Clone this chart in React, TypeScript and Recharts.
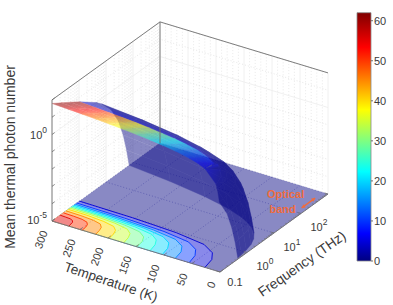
import { Bar, BarChart, Scatter, ScatterChart, XAxis, YAxis } from "recharts";

const WIDTH = 393;
const HEIGHT = 305;
const FONT = '"Liberation Sans", Arial, sans-serif';
const TEXT = "#3a3a3a";
const ORANGE = "#ef6c3e";

// axes: temperature in K, frequency and photon number as log10
const tempTicks = [300, 250, 200, 150, 100, 50, 0];
const tempMinor = [290, 280, 270, 260, 240, 230, 220, 210, 190, 180, 170, 160, 140, 130, 120, 110, 90, 80, 70, 60, 40, 30, 20, 10];
const freqDecades = [-1, 0, 1, 2, 3];
const freqMinorSteps = [0.301, 0.477, 0.602, 0.699, 0.778, 0.845, 0.903, 0.954];
const photonDecades = [-5, -4, -3, -2, -1, 0, 1, 2];
const colorbarTicks = [0, 10, 20, 30, 40, 50, 60];
const opticalBand = [2.21, 2.71];

// contours on the floor, outermost first: [temperature, log10 frequency]
const contourLevels = [5.1, 11, 16, 21, 25, 30, 35.5, 41, 46, 51, 56];
const contourCurves: number[][][] = [
  [[27, -1], [32, -0.64], [43, -0.39], [68, -0.18], [123, -0.06], [204, 0], [300, 0.02]],
  [[55, -1], [60, -0.68], [70, -0.45], [92, -0.26], [141, -0.15], [214, -0.1], [300, -0.08]],
  [[80, -1], [84, -0.7], [93, -0.48], [113, -0.31], [157, -0.21], [223, -0.16], [300, -0.14]],
  [[103, -1], [107, -0.72], [115, -0.51], [133, -0.35], [172, -0.25], [231, -0.21], [300, -0.19]],
  [[125, -1], [129, -0.73], [136, -0.54], [151, -0.39], [186, -0.3], [239, -0.26], [300, -0.24]],
  [[148, -1], [151, -0.75], [157, -0.57], [171, -0.43], [201, -0.35], [247, -0.3], [300, -0.29]],
  [[172, -1], [175, -0.77], [180, -0.6], [191, -0.47], [217, -0.39], [255, -0.35], [300, -0.34]],
  [[198, -1], [200, -0.79], [204, -0.64], [213, -0.52], [234, -0.45], [264, -0.41], [300, -0.4]],
  [[222, -1], [224, -0.82], [227, -0.69], [234, -0.58], [249, -0.52], [273, -0.49], [300, -0.48]],
  [[246, -1], [247, -0.85], [249, -0.75], [254, -0.66], [265, -0.61], [281, -0.59], [300, -0.58]],
  [[270, -1], [271, -0.9], [272, -0.82], [275, -0.76], [281, -0.72], [290, -0.71], [300, -0.7]],
];

// bright part of the surface, one row per temperature: [temperature, log10 f, log10 n]
const brightPhoton = [62, 56, 51, 46, 41, 35.5, 30, 25, 21, 16, 11, 7.9, 5.1];
const brightRows: number[][][] = [
  [[300, 0.02, 0.738], [300, -0.32, 1.099], [300, -0.66, 1.448], [300, -1, 1.792]],
  [[270, 0.01, 0.7], [270, -0.327, 1.059], [270, -0.663, 1.405], [270, -1, 1.746]],
  [[246, 0.005, 0.661], [246, -0.33, 1.019], [246, -0.665, 1.364], [246, -1, 1.706]],
  [[222, 0, 0.618], [222, -0.333, 0.976], [222, -0.667, 1.323], [222, -1, 1.66]],
  [[198, -0.004, 0.567], [198, -0.336, 0.927], [198, -0.668, 1.272], [198, -1, 1.61]],
  [[172, -0.024, 0.52], [172, -0.349, 0.876], [172, -0.675, 1.219], [172, -1, 1.548]],
  [[148, -0.04, 0.462], [148, -0.36, 0.816], [148, -0.68, 1.155], [148, -1, 1.482]],
  [[125, -0.06, 0.401], [125, -0.373, 0.751], [125, -0.687, 1.084], [125, -1, 1.407]],
  [[103, -0.104, 0.352], [103, -0.403, 0.695], [103, -0.701, 1.013], [103, -1, 1.321]],
  [[80, -0.154, 0.283], [80, -0.436, 0.61], [80, -0.718, 0.914], [80, -1, 1.209]],
  [[55, -0.289, 0.248], [55, -0.526, 0.528], [55, -0.763, 0.787], [55, -1, 1.04]],
  [[40, -0.41, 0.225], [40, -0.607, 0.462], [40, -0.803, 0.681], [40, -1, 0.898]],
  [[27, -1, 0.711], [27, -1, 0.711], [27, -1, 0.711], [27, -1, 0.711]],
];

// dark part: from the edge of the bright part down to the floor
const cliffPhoton = [5.1, 1, 0.5, 0.1, 0.01, 0.001, 0.0001, 0.00001];
const cliffCurves: number[][][] = [
  [[300, 0.02, 0.738], [204, 0, 0.576], [123, -0.06, 0.393], [68, -0.18, 0.227], [43, -0.39, 0.24], [32, -0.64, 0.387], [27, -1, 0.711]],
  [[300, 0.637, 0], [220, 0.502, 0], [150, 0.336, 0], [100, 0.16, 0], [65, -0.027, 0], [40, -0.238, 0], [25, -0.442, 0], [15, -0.664, 0], [9, -0.886, 0], [6.9, -1, 0]],
  [[300, 0.837, -0.301], [220, 0.702, -0.301], [150, 0.536, -0.301], [100, 0.36, -0.301], [65, 0.173, -0.301], [40, -0.038, -0.301], [25, -0.242, -0.301], [15, -0.464, -0.301], [9, -0.686, -0.301], [5, -0.941, -0.301], [4.4, -1, -0.301]],
  [[300, 1.176, -1], [220, 1.041, -1], [150, 0.875, -1], [100, 0.699, -1], [65, 0.512, -1], [40, 0.301, -1], [25, 0.097, -1], [15, -0.125, -1], [9, -0.347, -1], [5, -0.602, -1], [3, -0.824, -1], [2.1, -0.979, -1]],
  [[300, 1.46, -2], [220, 1.325, -2], [150, 1.159, -2], [100, 0.983, -2], [65, 0.796, -2], [40, 0.585, -2], [25, 0.381, -2], [15, 0.159, -2], [9, -0.063, -2], [5, -0.318, -2], [3, -0.54, -2], [2.1, -0.695, -2]],
  [[300, 1.635, -3], [220, 1.5, -3], [150, 1.334, -3], [100, 1.158, -3], [65, 0.971, -3], [40, 0.76, -3], [25, 0.556, -3], [15, 0.334, -3], [9, 0.112, -3], [5, -0.143, -3], [3, -0.365, -3], [2.1, -0.52, -3]],
  [[300, 1.76, -4], [220, 1.625, -4], [150, 1.459, -4], [100, 1.283, -4], [65, 1.096, -4], [40, 0.885, -4], [25, 0.681, -4], [15, 0.459, -4], [9, 0.237, -4], [5, -0.018, -4], [3, -0.24, -4], [2.1, -0.395, -4]],
  [[300, 1.857, -5], [220, 1.722, -5], [150, 1.556, -5], [100, 1.38, -5], [65, 1.193, -5], [40, 0.982, -5], [25, 0.778, -5], [15, 0.556, -5], [9, 0.334, -5], [5, 0.079, -5], [3, -0.143, -5], [2.1, -0.298, -5]],
];

type Vertex = number[];
interface Outline {
  verts: Vertex[];
  fill?: string;
  stroke?: string;
  width?: number;
  dash?: string;
  ramp?: { from: Vertex; to: Vertex; colors: string[] };
}

// axonometric view of (temperature, log10 f, log10 n) on the page
const project = (temp: number, logF: number, logN: number): Vertex => [
  220 + 27 * (logF + 1) - 0.56 * temp,
  272 - 19.5 * (logF + 1) - 0.17 * temp - 17.3 * (logN + 5),
];

const channel = (v: number) => Math.round(255 * Math.max(0, Math.min(1, v)));
const jet = (n: number) => {
  const t = n / 62;
  const r = channel(Math.min(4 * t - 1.5, 4.5 - 4 * t));
  const g = channel(Math.min(4 * t - 0.5, 3.5 - 4 * t));
  const b = channel(Math.min(4 * t + 0.5, 2.5 - 4 * t));
  return `rgb(${r},${g},${b})`;
};

const NoMark = () => <g />;

function TextMark(props: any) {
  const { cx, cy, payload: d } = props;
  return (
    <text
      x={cx}
      y={cy}
      transform={d.angle ? `rotate(${d.angle} ${cx} ${cy})` : undefined}
      textAnchor={d.anchor ?? "middle"}
      dominantBaseline="central"
      fontFamily={FONT}
      fontSize={d.size ?? 11}
      fontWeight={d.weight}
      fill={d.color ?? TEXT}
    >
      {d.text}
      {d.sup && (
        <tspan dy={-5} fontSize={8.5}>
          {d.sup}
        </tspan>
      )}
    </text>
  );
}

// every outline goes through the chart scales as one Scatter
function outlineLayer(key: string, outlines: Outline[], opacity = 1) {
  const data = outlines.flatMap((o) => o.verts.map(([px, py]) => ({ px, py })));
  const draw = (props: any) => {
    let at = 0;
    return (
      <g opacity={opacity}>
        {outlines.map((o, i) => {
          const pts = props.points.slice(at, at + o.verts.length);
          at += o.verts.length;
          const str = pts.map((p: any) => `${p.x},${p.y}`).join(" ");
          const common = {
            stroke: o.stroke ?? "none",
            strokeWidth: o.width ?? 1,
            strokeDasharray: o.dash,
            strokeLinejoin: "round" as const,
          };
          if (o.ramp) {
            const id = `${key}-${i}`;
            const { from, to, colors } = o.ramp;
            return (
              <g key={i}>
                <linearGradient id={id} gradientUnits="userSpaceOnUse" x1={from[0]} y1={from[1]} x2={to[0]} y2={to[1]}>
                  {colors.map((c, s) => (
                    <stop key={s} offset={s / (colors.length - 1)} stopColor={c} />
                  ))}
                </linearGradient>
                <polygon points={str} fill={`url(#${id})`} {...common} />
              </g>
            );
          }
          return o.fill ? (
            <polygon key={i} points={str} fill={o.fill} {...common} />
          ) : (
            <polyline key={i} points={str} fill="none" {...common} />
          );
        })}
      </g>
    );
  };
  return <Scatter key={key} data={data} line={draw} shape={NoMark} isAnimationActive={false} />;
}

// ---- walls
const minorFreqs = freqDecades.slice(0, 4).flatMap((d) => freqMinorSteps.map((s) => d + s));
const wallMajor = "#ececec";
const wallMinor = "#e0e0e0";
const wallLines: Outline[] = [
  ...minorFreqs.map((f) => ({ verts: [project(300, f, -5), project(300, f, 2)], stroke: wallMinor, width: 0.7, dash: "1 2" })),
  ...freqDecades.map((f) => ({ verts: [project(300, f, -5), project(300, f, 2)], stroke: wallMajor, width: 0.8 })),
  ...tempMinor.map((t) => ({ verts: [project(t, 3, -5), project(t, 3, 2)], stroke: wallMinor, width: 0.7, dash: "1 2" })),
  ...tempTicks.map((t) => ({ verts: [project(t, 3, -5), project(t, 3, 2)], stroke: wallMajor, width: 0.8 })),
  ...photonDecades.map((z) => ({
    verts: [project(300, -1, z), project(300, 3, z), project(0, 3, z)],
    stroke: z === 0 ? wallMajor : wallMinor,
    width: 0.8,
    dash: z === 0 ? undefined : "1 2",
  })),
];

// ---- floor
const floorGrid: Outline[] = [
  ...freqDecades.map((f) => ({ verts: [project(300, f, -5), project(0, f, -5)], stroke: "#6a6cb8", width: 0.5, dash: "1 2" })),
  ...tempTicks.map((t) => ({ verts: [project(t, -1, -5), project(t, 3, -5)], stroke: "#6a6cb8", width: 0.5, dash: "1 2" })),
];
const contourOnFloor = (curve: number[][]) => curve.map(([t, f]) => project(t, f, -5));
const floorFill: Outline[] = [
  {
    verts: [project(300, -1, -5), project(300, 3, -5), project(0, 3, -5), project(0, -1, -5)],
    fill: jet(0),
  },
  ...contourCurves.map((curve, i) => ({
    verts: [...contourOnFloor(curve), project(300, -1, -5)],
    fill: jet(contourLevels[i]),
    stroke: jet(contourLevels[i]),
    width: 0.3,
  })),
];
const floorLines: Outline[] = contourCurves.map((curve, i) => ({
  verts: contourOnFloor(curve),
  stroke: jet(contourLevels[i]),
  width: 0.9,
}));

// ---- surface, faces turned up/towards us are kept apart from those turned away
const signedArea = (v: Vertex[]) =>
  v.reduce((s, p, i) => {
    const q = v[(i + 1) % v.length];
    return s + p[0] * q[1] - q[0] * p[1];
  }, 0);

const mean = (v: Vertex[]) => [
  v.reduce((s, p) => s + p[0], 0) / v.length,
  v.reduce((s, p) => s + p[1], 0) / v.length,
];

// colour runs from one curve to the next, square to them
const faceRamp = (edgeA: Vertex[], edgeB: Vertex[], nA: number, nB: number) => {
  const ma = mean(edgeA);
  const mb = mean(edgeB);
  const along = (e: Vertex[]) => [e[e.length - 1][0] - e[0][0], e[e.length - 1][1] - e[0][1]];
  const da = along(edgeA);
  const db = along(edgeB);
  const d = Math.hypot(da[0], da[1]) > Math.hypot(db[0], db[1]) ? da : db;
  const len = Math.hypot(d[0], d[1]) || 1;
  const nx = -d[1] / len;
  const ny = d[0] / len;
  const reach = (mb[0] - ma[0]) * nx + (mb[1] - ma[1]) * ny;
  const to = Math.abs(reach) > 0.3 ? [ma[0] + nx * reach, ma[1] + ny * reach] : mb;
  const colors = [0, 0.25, 0.5, 0.75, 1].map((s) => jet(nA + (nB - nA) * s));
  return { from: ma, to, colors };
};

const frontFaces: Outline[] = [];
const backFaces: Outline[] = [];
const addFaces = (curves: number[][][], levels: number[]) => {
  curves.slice(0, -1).forEach((low, j) => {
    const A = low.map(([t, f, z]) => project(t, f, z));
    const B = curves[j + 1].map(([t, f, z]) => project(t, f, z));
    const nA = levels[j];
    const nB = levels[j + 1];
    const mid = jet((nA + nB) / 2);
    const m = Math.min(A.length, B.length);
    const push = (verts: Vertex[], edgeA: Vertex[], edgeB: Vertex[]) => {
      const o = { verts, stroke: mid, width: 0.4, ramp: faceRamp(edgeA, edgeB, nA, nB) };
      (signedArea(verts) >= 0 ? frontFaces : backFaces).push(o);
    };
    for (let k = 0; k < m - 1; k++) {
      push([A[k], B[k], B[k + 1], A[k + 1]], [A[k], A[k + 1]], [B[k], B[k + 1]]);
    }
    if (B.length > m) push([A[m - 1], ...B.slice(m - 1)], [A[m - 1]], B.slice(m - 1));
  });
};
addFaces(cliffCurves, cliffPhoton);
addFaces(brightRows, brightPhoton);

// ---- box and ticks
const BOX = "#6f6f6f";
const boxLines: Outline[] = [
  { verts: [project(300, -1, -5), project(300, -1, 2), project(300, 3, 2), project(0, 3, 2)], stroke: BOX, width: 0.9 },
  { verts: [project(300, 3, -5), project(300, 3, 2)], stroke: BOX, width: 0.9 },
  { verts: [project(300, -1, -5), project(0, -1, -5), project(0, 3, -5)], stroke: BOX, width: 0.9 },
];
const tickLines: Outline[] = [
  ...photonDecades.map((z) => ({ verts: [project(300, -1, z), project(300, -0.9, z)], stroke: BOX, width: 0.8 })),
  ...tempTicks.map((t) => ({ verts: [project(t, -1, -5), project(t, -0.9, -5)], stroke: BOX, width: 0.8 })),
  ...freqDecades.map((f) => ({ verts: [project(0, f, -5), project(6, f, -5)], stroke: BOX, width: 0.8 })),
  ...minorFreqs.map((f) => ({ verts: [project(0, f, -5), project(3, f, -5)], stroke: BOX, width: 0.6 })),
];

// ---- optical band arrow
const arrowFrom = project(9, opticalBand[0], -5);
const arrowTo = project(9, opticalBand[1], -5);
const arrowHead = (tip: Vertex, back: Vertex): Vertex[] => {
  const len = Math.hypot(tip[0] - back[0], tip[1] - back[1]);
  const ux = (tip[0] - back[0]) / len;
  const uy = (tip[1] - back[1]) / len;
  return [tip, [tip[0] - 3.6 * ux - 2 * uy, tip[1] - 3.6 * uy + 2 * ux], [tip[0] - 3.6 * ux + 2 * uy, tip[1] - 3.6 * uy - 2 * ux]];
};
const arrow: Outline[] = [
  { verts: [arrowFrom, arrowTo], stroke: ORANGE, width: 1.4 },
  { verts: arrowHead(arrowTo, arrowFrom), fill: ORANGE },
  { verts: arrowHead(arrowFrom, arrowTo), fill: ORANGE },
];

// ---- text
const at = (p: Vertex, dx: number, dy: number) => ({ px: p[0] + dx, py: p[1] + dy });
const labels = [
  ...tempTicks.map((t) => ({ ...at(project(t, -1, -5), -8, 10), text: String(t), angle: -70, anchor: "end" })),
  { ...at(project(0, -1, -5), 15, 10), text: "0.1" },
  ...[0, 1, 2].map((f) => ({ ...at(project(0, f, -5), 18, 13.5), text: "10", sup: String(f) })),
  { ...at(project(300, -1, 0), -5, 0), text: "10", sup: "0", anchor: "end" },
  { ...at(project(300, -1, -5), -5, -1), text: "10", sup: "-5", anchor: "end" },
  { px: 111, py: 282, text: "Temperature (K)", angle: 18.6, size: 13.5 },
  { px: 302, py: 264, text: "Frequency (THz)", angle: -35, size: 13.8 },
  { px: 10, py: 157, text: "Mean thermal photon number", angle: -90, size: 14 },
  { ...at(arrowFrom, -16, -14), text: "Optical", size: 11, weight: 700, color: ORANGE },
  { ...at(arrowFrom, -19, 1), text: "band", size: 11, weight: 700, color: ORANGE },
];

const colorbarData = [{ name: "n", top: 62 }];
const jetStops = [
  [0, "#000080"],
  [0.11, "#0000ff"],
  [0.36, "#00ffff"],
  [0.61, "#ffff00"],
  [0.86, "#ff0000"],
  [1, "#800000"],
];

export default function App() {
  return (
    <div style={{ position: "absolute", left: 0, top: 0, width: WIDTH, height: HEIGHT, background: "#fff" }}>
      <ScatterChart width={WIDTH} height={HEIGHT} margin={{ top: 0, right: 0, bottom: 0, left: 0 }}>
        <XAxis dataKey="px" type="number" domain={[0, WIDTH]} hide />
        <YAxis dataKey="py" type="number" domain={[0, HEIGHT]} reversed hide />
        {outlineLayer("walls", wallLines)}
        {outlineLayer("floorGrid", floorGrid)}
        {outlineLayer("floorFill", floorFill, 0.46)}
        {outlineLayer("floorLines", floorLines)}
        {outlineLayer("backFaces", backFaces, 0.46)}
        {outlineLayer("frontFaces", frontFaces, 0.55)}
        {outlineLayer("box", boxLines)}
        {outlineLayer("ticks", tickLines)}
        {outlineLayer("arrow", arrow)}
        <Scatter data={labels} shape={TextMark} isAnimationActive={false} />
      </ScatterChart>
      <div style={{ position: "absolute", left: 340, top: 0 }}>
        <BarChart
          width={53}
          height={HEIGHT}
          data={colorbarData}
          barCategoryGap={0}
          margin={{ top: 12.7, right: 0, bottom: 44, left: 17 }}
        >
          <defs>
            <linearGradient id="jetBar" x1="0" y1="1" x2="0" y2="0">
              {jetStops.map(([o, c]) => (
                <stop key={o} offset={o} stopColor={c as string} />
              ))}
            </linearGradient>
          </defs>
          <XAxis dataKey="name" hide />
          <YAxis
            orientation="right"
            domain={[0, 62]}
            ticks={colorbarTicks}
            width={22}
            axisLine={false}
            tickSize={2}
            tickMargin={1}
            tickLine={{ stroke: BOX }}
            tick={{ fontSize: 11, fill: TEXT, fontFamily: FONT }}
          />
          <Bar dataKey="top" fill="url(#jetBar)" stroke="#8a8a8a" strokeWidth={0.8} isAnimationActive={false} />
        </BarChart>
      </div>
    </div>
  );
}
